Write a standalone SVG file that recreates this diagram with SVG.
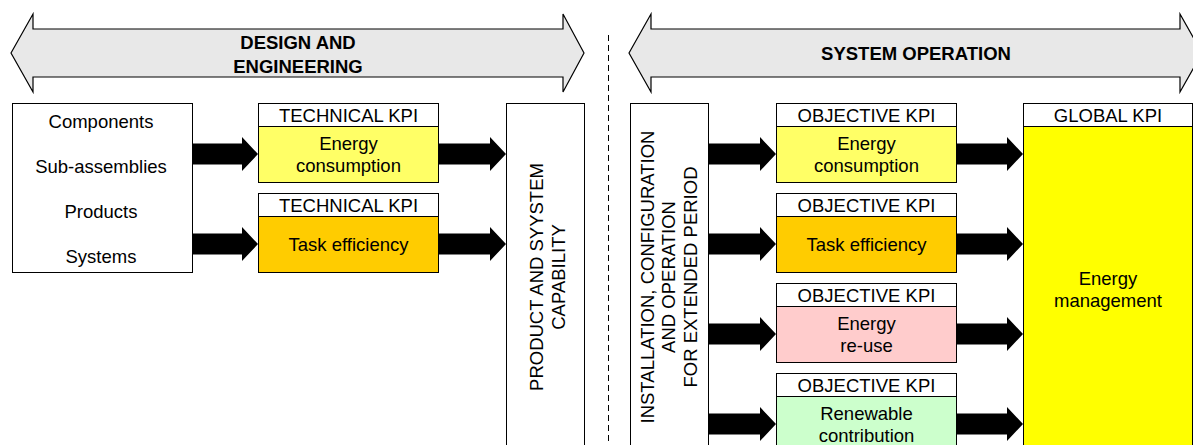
<svg xmlns="http://www.w3.org/2000/svg" width="1193" height="445" viewBox="0 0 1193 445">
<style>
text{font-family:"Liberation Sans",Arial,sans-serif;font-size:18.5px;fill:#000;text-anchor:middle}
.b{font-weight:bold}
.box{stroke:#000;stroke-width:1}
.banner{fill:#E8E8E8;stroke:#000;stroke-width:1.2}
.arr{fill:#000;stroke:none}
.w{fill:#fff}
.y1{fill:#FFFF66}
.o{fill:#FFCC00}
.p{fill:#FFCCCC}
.g{fill:#CCFFCC}
.y{fill:#FFFF00}
</style>
<rect width="1193" height="445" fill="#fff"/>
<g id="banner-design">
<polygon class="banner" points="11,53 33,14 33,29 563,29 563,14 584,53 563,92 563,77 33,77 33,92"/>
<text class="b" x="298" y="48.5">DESIGN AND</text>
<text class="b" x="298" y="72.5">ENGINEERING</text>
</g>
<g id="banner-operation">
<polygon class="banner" points="629,53 651,14 651,29 1180,29 1180,14 1202,53 1180,92 1180,77 651,77 651,92"/>
<text class="b" x="916" y="60">SYSTEM OPERATION</text>
</g>
<g id="divider">
<line x1="608.5" y1="35" x2="608.5" y2="445" stroke="#000" stroke-width="1" stroke-dasharray="6,4"/>
</g>
<g id="scope">
<rect class="box w" x="12.5" y="103.5" width="180" height="169"/>
<text x="101" y="128">Components</text>
<text x="101" y="173">Sub-assemblies</text>
<text x="101" y="218">Products</text>
<text x="101" y="263">Systems</text>
</g>
<g id="tech-kpi-energy">
<rect class="box w" x="258.5" y="103.5" width="180" height="23"/>
<rect class="box y1" x="258.5" y="126.5" width="180" height="56"/>
<text x="348.5" y="121.5">TECHNICAL KPI</text>
<text x="348.5" y="150">Energy</text>
<text x="348.5" y="172">consumption</text>
</g>
<g id="tech-kpi-task">
<rect class="box w" x="258.5" y="193.5" width="180" height="23"/>
<rect class="box o" x="258.5" y="216.5" width="180" height="56"/>
<text x="348.5" y="211.5">TECHNICAL KPI</text>
<text x="348.5" y="251">Task efficiency</text>
</g>
<g id="capability">
<rect class="box w" x="506.5" y="103.5" width="78" height="350"/>
<text transform="translate(543 277) rotate(-90)">PRODUCT AND SYYSTEM</text>
<text transform="translate(565 277) rotate(-90)">CAPABILITY</text>
</g>
<g id="installation">
<rect class="box w" x="630.5" y="103.5" width="78" height="350"/>
<text transform="translate(653.5 277) rotate(-90)">INSTALLATION, CONFIGURATION</text>
<text transform="translate(675 277) rotate(-90)">AND OPERATION</text>
<text transform="translate(696.5 277) rotate(-90)">FOR EXTENDED PERIOD</text>
</g>
<g id="obj-kpi-energy">
<rect class="box w" x="776.5" y="103.5" width="180" height="23"/>
<rect class="box y1" x="776.5" y="126.5" width="180" height="56"/>
<text x="866.5" y="121.5">OBJECTIVE KPI</text>
<text x="866.5" y="150">Energy</text>
<text x="866.5" y="172">consumption</text>
</g>
<g id="obj-kpi-task">
<rect class="box w" x="776.5" y="193.5" width="180" height="23"/>
<rect class="box o" x="776.5" y="216.5" width="180" height="56"/>
<text x="866.5" y="211.5">OBJECTIVE KPI</text>
<text x="866.5" y="251">Task efficiency</text>
</g>
<g id="obj-kpi-reuse">
<rect class="box w" x="776.5" y="283.5" width="180" height="23"/>
<rect class="box p" x="776.5" y="306.5" width="180" height="56"/>
<text x="866.5" y="301.5">OBJECTIVE KPI</text>
<text x="866.5" y="330">Energy</text>
<text x="866.5" y="352">re-use</text>
</g>
<g id="obj-kpi-renewable">
<rect class="box w" x="776.5" y="373.5" width="180" height="23"/>
<rect class="box g" x="776.5" y="396.5" width="180" height="60"/>
<text x="866.5" y="391.5">OBJECTIVE KPI</text>
<text x="866.5" y="420">Renewable</text>
<text x="866.5" y="442">contribution</text>
</g>
<g id="global-kpi">
<rect class="box w" x="1023.5" y="103.5" width="169" height="23"/>
<rect class="box y" x="1023.5" y="126.5" width="169" height="330"/>
<text x="1108" y="121.5">GLOBAL KPI</text>
<text x="1108" y="285">Energy</text>
<text x="1108" y="307">management</text>
</g>
<g id="connectors">
<polygon class="arr" points="192,143.5 242,143.5 242,137 258,154 242,171 242,164.5 192,164.5"/>
<polygon class="arr" points="192,233.5 242,233.5 242,227 258,244 242,261 242,254.5 192,254.5"/>
<polygon class="arr" points="438,143.5 490,143.5 490,137 506,154 490,171 490,164.5 438,164.5"/>
<polygon class="arr" points="438,233.5 490,233.5 490,227 506,244 490,261 490,254.5 438,254.5"/>
<polygon class="arr" points="708,143.5 760,143.5 760,137 776,154 760,171 760,164.5 708,164.5"/>
<polygon class="arr" points="708,233.5 760,233.5 760,227 776,244 760,261 760,254.5 708,254.5"/>
<polygon class="arr" points="708,323.5 760,323.5 760,317 776,334 760,351 760,344.5 708,344.5"/>
<polygon class="arr" points="708,413.5 760,413.5 760,407 776,424 760,441 760,434.5 708,434.5"/>
<polygon class="arr" points="956,143.5 1007,143.5 1007,137 1023,154 1007,171 1007,164.5 956,164.5"/>
<polygon class="arr" points="956,233.5 1007,233.5 1007,227 1023,244 1007,261 1007,254.5 956,254.5"/>
<polygon class="arr" points="956,323.5 1007,323.5 1007,317 1023,334 1007,351 1007,344.5 956,344.5"/>
<polygon class="arr" points="956,413.5 1007,413.5 1007,407 1023,424 1007,441 1007,434.5 956,434.5"/>
</g>
</svg>
